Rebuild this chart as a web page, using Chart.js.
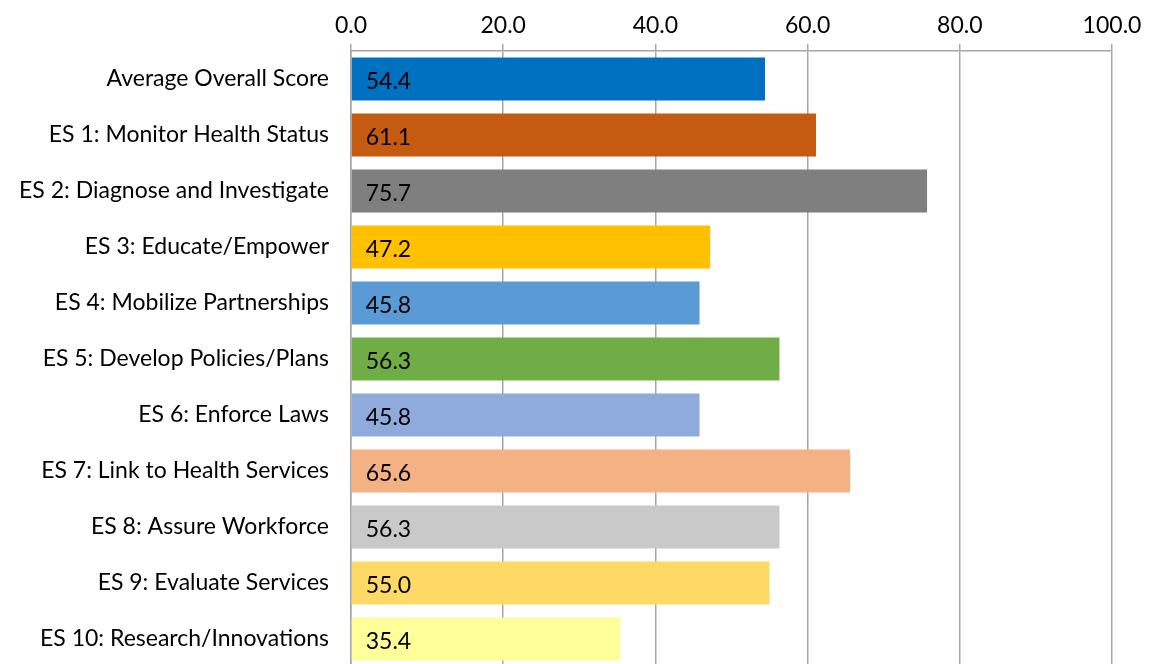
<!DOCTYPE html>
<html>
<head>
<meta charset="utf-8">
<script src="https://cdn.jsdelivr.net/npm/chart.js@4.4.0/dist/chart.umd.min.js"></script>
<style>
  html, body { margin: 0; padding: 0; background: #fff; overflow: hidden; }
  #wrap { width: 1158px; height: 668px; position: relative; }
</style>
</head>
<body>
<div id="wrap"><canvas id="chartScores"></canvas></div>
<script>
const categories = [
    'Average Overall Score',
    'ES 1: Monitor Health Status',
    'ES 2: Diagnose and Investigate',
    'ES 3: Educate/Empower',
    'ES 4: Mobilize Partnerships',
    'ES 5: Develop Policies/Plans',
    'ES 6: Enforce Laws',
    'ES 7: Link to Health Services',
    'ES 8: Assure Workforce',
    'ES 9: Evaluate Services',
    'ES 10: Research/Innovations'
];
const scores = [54.4, 61.1, 75.7, 47.2, 45.8, 56.3, 45.8, 65.6, 56.3, 55.0, 35.4];
const barColors = ['#0070C0', '#C55A11', '#7F7F7F', '#FFC000', '#5B9BD5', '#70AD47',
                   '#8FAADC', '#F4B183', '#C9C9C9', '#FFD966', '#FFFF99'];
const axisMin = 0;
const axisMax = 100;
const axisStep = 20;

const FONT = 'Lato, "Open Sans", sans-serif';

// draws the value at the left end inside each bar
const valueLabels = {
    id: 'valueLabels',
    afterDatasetsDraw(chart) {
        const ctx = chart.ctx;
        const meta = chart.getDatasetMeta(0);
        ctx.save();
        ctx.font = '23px ' + FONT;
        ctx.fillStyle = '#000';
        ctx.textAlign = 'left';
        ctx.textBaseline = 'middle';
        meta.data.forEach((bar, i) => {
            ctx.fillText(scores[i].toFixed(1), bar.base + 14, bar.y + 3);
        });
        ctx.restore();
    }
};

const ctx = document.getElementById('chartScores').getContext('2d');
new Chart(ctx, {
    type: 'bar',
    data: {
        labels: categories,
        datasets: [{
            data: scores,
            backgroundColor: barColors,
            borderWidth: 0,
            barPercentage: 0.77,
            categoryPercentage: 1.0
        }]
    },
    options: {
        indexAxis: 'y',
        responsive: true,
        maintainAspectRatio: false,
        animation: false,
        layout: { padding: { top: 0, right: 46, bottom: 1, left: 0 } },
        plugins: {
            legend: { display: false },
            tooltip: { enabled: false }
        },
        scales: {
            x: {
                position: 'top',
                min: axisMin,
                max: axisMax,
                ticks: {
                    stepSize: axisStep,
                    color: '#000',
                    font: { family: FONT, size: 23 },
                    padding: 5,
                    callback: v => Number(v).toFixed(1)
                },
                grid: {
                    color: '#A6A6A6',
                    lineWidth: 1.5,
                    tickLength: 7
                },
                border: { color: '#A6A6A6', width: 1.5 },
                afterFit: scale => { scale.height = 51; }
            },
            y: {
                ticks: {
                    color: '#000',
                    font: { family: FONT, size: 23 },
                    padding: 22
                },
                grid: { color: 'rgba(0,0,0,0)', drawTicks: false },
                border: { display: true, color: '#A6A6A6', width: 1.5 },
                afterFit: scale => {
                    scale.width = 351;
                    scale.paddingTop = 0;
                    scale.paddingBottom = 0;
                }
            }
        }
    },
    plugins: [valueLabels]
});
</script>
</body>
</html>
